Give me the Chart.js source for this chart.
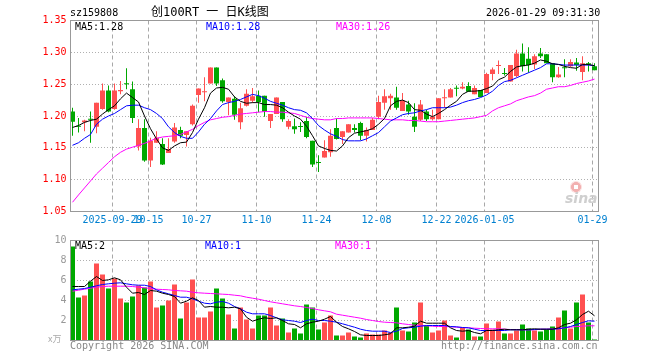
<!DOCTYPE html>
<html><head><meta charset="utf-8">
<script src="https://cdn.jsdelivr.net/npm/chart.js@4.4.1/dist/chart.umd.min.js"></script>
<style>
body{margin:0;background:#fff;}
#wrap{position:relative;width:660px;height:360px;overflow:hidden;background:#fff;}
canvas{position:absolute;left:0;}
.t{position:absolute;white-space:pre;font-size:10px;line-height:10px;font-family:"DejaVu Sans Mono",monospace;z-index:5;}
</style></head><body>
<div id="wrap">
<canvas id="pc" width="660" height="232" style="top:0;width:660px;height:232px"></canvas>
<canvas id="vc" width="660" height="130" style="top:230px;width:660px;height:130px"></canvas>
<div class="t" style="left:70px;top:8px;color:#000">sz159808</div>
<div class="t" style="left:151px;top:6px;font-size:12px;line-height:13px;font-family:'DejaVu Sans Mono','Noto Sans CJK SC',monospace;color:#000">创100RT 一 日K线图</div>
<div class="t" style="left:486px;top:8px;color:#000">2026-01-29 09:31:30</div>
<div class="t" style="left:75px;top:22px;color:#000">MA5:1.28</div>
<div class="t" style="left:206px;top:22px;color:#0000ff">MA10:1.28</div>
<div class="t" style="left:336px;top:22px;color:#ff00ff">MA30:1.26</div>
<div class="t" style="left:75px;top:241px;color:#000">MA5:2</div>
<div class="t" style="left:205px;top:241px;color:#0000ff">MA10:1</div>
<div class="t" style="left:335px;top:241px;color:#ff00ff">MA30:1</div>
<div class="t" style="left:48px;top:334px;font-size:9px;line-height:9px;font-family:'Noto Sans CJK SC',sans-serif;color:#aaa">x万</div>
<div class="t" style="left:70px;top:341px;color:#888">Copyright 2026 SINA.COM</div>
<div class="t" style="left:441px;top:341px;color:#888">http://finance.sina.com.cn</div>
<div style="position:absolute;left:570px;top:181px;width:12px;height:12px;border-radius:50%;background:radial-gradient(circle,#fff 0 25%,#f2b0b0 30% 55%,#fbdede 60% 100%);z-index:4"></div>
<div class="t" style="left:565px;top:191px;font-size:14px;line-height:14px;font-family:'DejaVu Sans';font-weight:bold;font-style:italic;color:#cfcfcf;z-index:4">sina</div>
</div>
<script>
const dates = ['2025-09-18','2025-09-19','2025-09-22','2025-09-23','2025-09-24','2025-09-25','2025-09-26',
'2025-09-29','2025-09-30','2025-10-09','2025-10-10','2025-10-13','2025-10-14','2025-10-15',
'2025-10-16','2025-10-17','2025-10-20','2025-10-21','2025-10-22','2025-10-23','2025-10-24','2025-10-27',
'2025-10-28','2025-10-29','2025-10-30','2025-10-31','2025-11-03','2025-11-04','2025-11-05','2025-11-06','2025-11-07','2025-11-10',
'2025-11-11','2025-11-12','2025-11-13','2025-11-14','2025-11-17','2025-11-18','2025-11-19','2025-11-20','2025-11-21','2025-11-24',
'2025-11-25','2025-11-26','2025-11-27','2025-11-28','2025-12-01','2025-12-02','2025-12-03','2025-12-04','2025-12-05','2025-12-08',
'2025-12-09','2025-12-10','2025-12-11','2025-12-12','2025-12-15','2025-12-16','2025-12-17','2025-12-18','2025-12-19','2025-12-22',
'2025-12-23','2025-12-24','2025-12-25','2025-12-26','2025-12-29','2025-12-30','2025-12-31','2026-01-05',
'2026-01-06','2026-01-07','2026-01-08','2026-01-09','2026-01-12','2026-01-13','2026-01-14','2026-01-15','2026-01-16','2026-01-19',
'2026-01-20','2026-01-21','2026-01-22','2026-01-23','2026-01-26','2026-01-27','2026-01-28','2026-01-29'];

const tickDates = ['2025-09-29','2025-10-15','2025-10-27','2025-11-10','2025-11-24','2025-12-08','2025-12-22','2026-01-05','2026-01-29'];
const tickText  = ['2025-09-29','10-15','10-27','11-10','11-24','12-08','12-22','2026-01-05','01-29'];
const priceTicks = [1.05,1.10,1.15,1.20,1.25,1.30,1.35];
const priceTickText = ['1.05','1.10','1.15','1.20','1.25','1.30','1.35'];
const volTicks = [0,2,4,6,8,10];
const volTickText = ['','2','4','6','8','10'];

const open = [1.207,1.184,1.190,1.195,1.183,1.211,1.240,1.211,1.239,1.251,
1.242,1.152,1.181,1.130,1.158,1.156,1.142,1.160,1.178,1.170,
1.187,1.233,1.2375,1.251,1.276,1.256,1.222,1.227,1.190,1.216,
1.224,1.232,1.232,1.192,1.203,1.222,1.183,1.184,1.1833,1.192,
1.161,1.1265,1.135,1.143,1.181,1.167,1.174,1.181,1.189,1.169,
1.178,1.199,1.221,1.228,1.229,1.208,1.218,1.199,1.194,1.207,
1.195,1.195,1.228,1.229,1.2435,1.243,1.247,1.234,1.241,1.236,
1.266,1.2786,1.2667,1.254,1.263,1.298,1.290,1.281,1.298,1.297,
1.283,1.261,1.276,1.278,1.284,1.269,1.283,1.278];
const high = [1.213,1.197,1.194,1.207,1.221,1.251,1.248,1.251,1.255,1.275,
1.254,1.195,1.195,1.166,1.176,1.165,1.165,1.189,1.183,1.176,
1.218,1.243,1.261,1.276,1.276,1.259,1.229,1.231,1.221,1.242,
1.244,1.240,1.232,1.203,1.229,1.222,1.195,1.196,1.190,1.199,
1.161,1.1385,1.162,1.179,1.196,1.176,1.187,1.187,1.191,1.182,
1.197,1.232,1.242,1.235,1.246,1.236,1.224,1.220,1.225,1.210,
1.210,1.228,1.242,1.244,1.248,1.253,1.253,1.248,1.241,1.268,
1.276,1.287,1.2755,1.280,1.304,1.314,1.308,1.297,1.307,1.297,
1.283,1.277,1.289,1.289,1.291,1.294,1.285,1.283];
const low = [1.169,1.174,1.176,1.158,1.173,1.210,1.206,1.210,1.234,1.242,
1.189,1.146,1.128,1.120,1.158,1.123,1.142,1.158,1.165,1.152,
1.185,1.221,1.223,1.251,1.247,1.221,1.201,1.194,1.179,1.215,
1.221,1.206,1.199,1.181,1.203,1.191,1.179,1.172,1.175,1.165,
1.120,1.112,1.135,1.136,1.163,1.156,1.174,1.174,1.162,1.160,
1.178,1.195,1.210,1.210,1.210,1.208,1.202,1.175,1.192,1.192,
1.193,1.195,1.213,1.229,1.231,1.242,1.238,1.234,1.230,1.236,
1.256,1.266,1.2635,1.254,1.261,1.270,1.268,1.274,1.291,1.283,
1.253,1.260,1.261,1.277,1.271,1.256,1.270,1.272];
const close = [1.191,1.183,1.193,1.194,1.221,1.240,1.207,1.240,1.241,1.250,
1.197,1.181,1.130,1.161,1.166,1.124,1.148,1.182,1.169,1.176,
1.216,1.243,1.2385,1.276,1.251,1.223,1.229,1.202,1.212,1.235,
1.231,1.222,1.207,1.203,1.229,1.195,1.192,1.179,1.1828,1.167,
1.124,1.126,1.145,1.169,1.164,1.176,1.187,1.178,1.169,1.178,
1.194,1.222,1.231,1.232,1.213,1.224,1.207,1.183,1.218,1.195,
1.199,1.228,1.229,1.242,1.2427,1.246,1.238,1.244,1.230,1.266,
1.273,1.2792,1.2661,1.280,1.298,1.278,1.280,1.294,1.294,1.283,
1.261,1.265,1.275,1.285,1.280,1.283,1.281,1.272];

const ma5 = [1.182,1.185,1.190,1.193,1.195,1.203,1.210,1.216,1.227,1.236,
1.229,1.222,1.200,1.180,1.164,1.150,1.146,1.153,1.158,1.159,
1.174,1.195,1.213,1.236,1.244,1.245,1.242,1.230,1.223,1.220,
1.221,1.221,1.218,1.218,1.217,1.213,1.206,1.200,1.195,1.184,
1.169,1.153,1.149,1.146,1.145,1.153,1.166,1.173,1.175,1.177,
1.180,1.187,1.196,1.216,1.223,1.225,1.221,1.210,1.209,1.203,
1.199,1.204,1.210,1.217,1.223,1.234,1.239,1.239,1.240,1.243,
1.247,1.257,1.261,1.270,1.277,1.279,1.280,1.283,1.288,1.286,
1.282,1.281,1.278,1.276,1.275,1.281,1.281,1.279];
const ma10 = [1.154,1.158,1.165,1.171,1.187,1.195,1.200,1.204,1.210,1.216,
1.217,1.217,1.213,1.210,1.204,1.196,1.183,1.174,1.168,1.165,
1.165,1.175,1.187,1.196,1.208,1.218,1.221,1.223,1.226,1.230,
1.234,1.232,1.228,1.223,1.220,1.217,1.213,1.210,1.209,1.205,
1.196,1.185,1.178,1.172,1.168,1.163,1.161,1.161,1.161,1.164,
1.169,1.174,1.183,1.192,1.197,1.202,1.204,1.205,1.208,1.210,
1.213,1.213,1.213,1.214,1.217,1.221,1.224,1.226,1.229,1.233,
1.239,1.248,1.254,1.256,1.260,1.264,1.268,1.272,1.276,1.282,
1.282,1.281,1.280,1.280,1.280,1.280,1.280,1.279];
const ma30 = [1.0645,1.076,1.087,1.098,1.109,1.118,1.127,1.136,1.143,1.148,
1.151,1.154,1.157,1.161,1.165,1.167,1.168,1.169,1.171,1.175,
1.179,1.185,1.190,1.194,1.196,1.198,1.199,1.201,1.203,1.204,
1.205,1.206,1.207,1.207,1.206,1.206,1.205,1.204,1.201,1.198,
1.196,1.195,1.194,1.194,1.196,1.196,1.197,1.197,1.197,1.197,
1.197,1.196,1.195,1.194,1.194,1.194,1.193,1.193,1.192,1.191,
1.191,1.191,1.192,1.193,1.194,1.195,1.196,1.197,1.199,1.201,
1.208,1.213,1.216,1.219,1.224,1.227,1.230,1.232,1.236,1.242,
1.244,1.246,1.246,1.248,1.251,1.253,1.255,1.258];

const vol = [9.4,4.3,4.5,5.9,7.7,6.6,5.2,6.2,4.2,3.8,
4.4,5.5,5.3,5.9,3.3,3.5,4.0,5.6,2.2,3.8,
6.1,2.3,2.3,2.9,5.2,4.2,2.6,1.2,3.3,2.1,
1.2,2.5,2.5,3.3,1.5,2.2,0.8,1.2,0.7,3.6,
3.3,1.1,1.8,2.5,0.5,0.5,0.8,0.4,0.3,0.7,
0.6,0.6,1.0,0.8,3.3,1.0,0.9,1.8,3.8,1.5,
0.8,1.0,2.0,0.5,0.3,1.3,1.1,0.4,0.4,1.7,
1.1,1.9,0.7,0.7,1.0,1.6,1.2,1.0,0.9,1.1,
1.4,2.3,3.0,1.2,3.8,4.6,1.8,0.1];
const vma5 = [5.4,5.4,5.4,5.93,6.4,6.0,6.07,6.27,6.07,5.33,
4.73,4.8,4.6,5.0,4.93,4.73,4.6,4.4,3.73,3.93,
4.27,4.0,3.33,3.4,3.33,3.33,3.27,3.33,3.17,2.33,
1.93,2.13,2.27,2.2,2.27,2.0,1.67,1.6,1.27,1.67,
1.83,1.93,2.13,2.4,1.83,1.4,1.17,0.9,0.57,0.5,
0.5,0.5,0.57,0.67,1.27,1.27,1.33,1.43,1.93,1.73,
1.73,1.73,1.73,1.27,1.0,0.93,1.0,0.8,0.67,1.0,
1.0,1.07,1.13,1.07,1.07,1.07,1.13,1.17,1.13,1.13,
1.13,1.27,1.6,1.73,2.07,2.6,2.93,2.47];
const vma10 = [5.07,5.13,5.2,5.33,5.47,5.6,5.67,5.73,5.77,5.67,
5.57,5.53,5.53,5.4,5.07,4.83,4.67,4.5,4.33,4.33,
4.17,3.93,3.73,3.67,3.83,3.9,3.73,3.4,3.17,2.83,
2.67,2.67,2.67,2.5,2.27,2.07,2.0,1.93,1.8,2.0,
2.13,2.0,2.0,1.93,1.83,1.67,1.5,1.33,1.13,1.0,
0.93,0.93,0.93,0.8,0.93,1.2,1.27,1.33,1.43,1.5,
1.5,1.5,1.5,1.4,1.37,1.3,1.27,1.13,1.0,1.0,
1.0,1.0,1.0,1.07,1.07,1.07,1.07,1.1,1.13,1.13,
1.13,1.17,1.27,1.4,1.6,1.8,1.97,1.93];
const vma30 = [4.93,5.03,5.13,5.23,5.33,5.4,5.43,5.43,5.43,5.43,
5.4,5.33,5.27,5.2,5.13,5.1,5.07,5.0,4.97,4.93,
4.83,4.77,4.73,4.7,4.67,4.63,4.6,4.53,4.47,4.33,
4.23,4.13,4.0,3.87,3.77,3.67,3.57,3.47,3.4,3.3,
3.2,3.07,2.97,2.87,2.63,2.53,2.43,2.33,2.23,2.1,
2.0,1.9,1.83,1.8,1.77,1.67,1.6,1.53,1.5,1.47,
1.43,1.4,1.4,1.37,1.33,1.3,1.27,1.23,1.2,1.17,
1.17,1.17,1.13,1.1,1.1,1.07,1.07,1.07,1.13,1.13,
1.17,1.2,1.27,1.33,1.4,1.43,1.47,1.47];

const UP = '#ff5050', DOWN = '#00a800';
const n = dates.length;
const SHIFT = 1/3;
const cols = close.map((c,i) => c >= open[i] ? UP : DOWN);
const tickIdx = tickDates.map(d => dates.indexOf(d));
const pts = arr => arr.map((v,i) => ({x:i, y:v}));
const MONO = {family:'DejaVu Sans Mono', size:10};

function xScale(show){
  return {
    type:'linear', min:-SHIFT, max:n-SHIFT, bounds:'data', offset:false,
    afterBuildTicks: s => { s.ticks = tickIdx.map(i => ({value:i-SHIFT})); },
    afterFit: s => { s.height = show ? 20.5 : 19.5; },
    ticks:{display:show, autoSkip:false, maxRotation:0, minRotation:0, padding:3, color:'#0080d0', font:MONO,
      callback:(v,idx) => tickText[idx]},
    grid:{color:'#a8a8a8', lineWidth:1, drawTicks:false, offset:false},
    border:{display:true, color:'#999', dash:[4,3]}
  };
}
function yScale(min,max,ticks,texts,color){
  return {
    type:'linear', min:min, max:max, position:'left', bounds:'data', offset:false,
    afterBuildTicks: s => { s.ticks = ticks.map(v => ({value:v})); },
    afterFit: s => { s.width = 70.5; },
    ticks:{color:color, padding:4, font:MONO, callback:(v,idx) => texts[idx]},
    grid:{color:'#b0b0b0', lineWidth:1, drawTicks:false},
    border:{display:true, color:'#999', dash:[1,2]}
  };
}
const frame = {id:'frame', afterDraw(c){
  const {ctx, chartArea:a} = c;
  ctx.save(); ctx.strokeStyle = '#999'; ctx.lineWidth = 1;
  ctx.strokeRect(a.left, a.top, a.right-a.left, a.bottom-a.top); ctx.restore();
}};
const line = (data,color) => ({type:'line', data:pts(data), borderColor:color, borderWidth:1, pointRadius:0, tension:0, fill:false});
const common = {responsive:false, animation:false, events:[], devicePixelRatio:1,
  plugins:{legend:{display:false}, tooltip:{enabled:false}}};

new Chart(document.getElementById('pc'), {
  type:'bar',
  data:{datasets:[
    line(ma5,'#000000'), line(ma10,'#0000ff'), line(ma30,'#ff00ff'),
    {type:'bar', data:open.map((o,i)=>({x:i, y:[o, close[i]]})), backgroundColor:cols, barThickness:5, minBarLength:1, grouped:false, borderWidth:0, inflateAmount:0},
    {type:'bar', data:low.map((l,i)=>({x:i, y:[l, high[i]]})), backgroundColor:cols, barThickness:1, grouped:false, borderWidth:0, inflateAmount:0}
  ]},
  options:Object.assign({}, common, {
    layout:{padding:{top:20.5, right:61.5, left:0, bottom:0}},
    scales:{x:xScale(true), y:yScale(1.05,1.35,priceTicks,priceTickText,'#ff0000')}
  }),
  plugins:[frame]
});

new Chart(document.getElementById('vc'), {
  type:'bar',
  data:{datasets:[
    line(vma5,'#000000'), line(vma10,'#0000ff'), line(vma30,'#ff00ff'),
    {type:'bar', data:pts(vol), backgroundColor:cols, barThickness:5, grouped:false, borderWidth:0, inflateAmount:0}
  ]},
  options:Object.assign({}, common, {
    layout:{padding:{top:10.5, right:61.5, left:0, bottom:0}},
    scales:{x:xScale(false), y:yScale(0,10,volTicks,volTickText,'#999999')}
  }),
  plugins:[frame]
});
</script>
</body></html>
